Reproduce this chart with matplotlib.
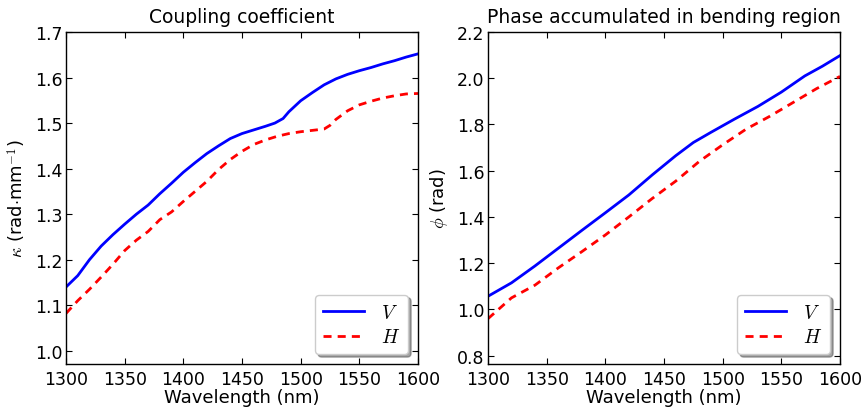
import matplotlib
matplotlib.use("Agg")
import matplotlib.pyplot as plt
import numpy as np

plt.rcParams['mathtext.fontset'] = 'cm'
plt.rcParams['font.family'] = ['DejaVu Sans']

# Left panel: coupling coefficient
wl_k_v = [1300, 1310, 1320, 1330, 1340, 1350, 1360, 1370, 1380, 1390, 1400, 1410, 1420, 1430,
          1440, 1450, 1460, 1470, 1478, 1485, 1490, 1500, 1510, 1520, 1530, 1540, 1550, 1560,
          1570, 1580, 1590, 1600]
kappa_v = [1.140, 1.165, 1.200, 1.230, 1.255, 1.278, 1.300, 1.320, 1.345, 1.368, 1.392, 1.413,
           1.433, 1.450, 1.466, 1.477, 1.485, 1.493, 1.500, 1.510, 1.525, 1.549, 1.567, 1.584,
           1.597, 1.607, 1.615, 1.622, 1.630, 1.637, 1.645, 1.652]
wl_k_h = [1300, 1310, 1320, 1330, 1340, 1350, 1360, 1370, 1380, 1390, 1400, 1410, 1420, 1430,
          1440, 1450, 1460, 1470, 1480, 1490, 1500, 1510, 1520, 1525, 1530, 1540, 1550, 1560,
          1570, 1580, 1590, 1600]
kappa_h = [1.082, 1.110, 1.135, 1.162, 1.190, 1.220, 1.243, 1.262, 1.288, 1.305, 1.328, 1.350,
           1.372, 1.398, 1.420, 1.438, 1.453, 1.463, 1.471, 1.477, 1.481, 1.484, 1.487, 1.495,
           1.508, 1.527, 1.540, 1.548, 1.555, 1.560, 1.564, 1.565]

# Right panel: phase accumulated
wl_p_v = [1300, 1320, 1340, 1360, 1380, 1400, 1420, 1440, 1460, 1475, 1490, 1510, 1530, 1550,
          1570, 1585, 1600]
phi_v = [1.057, 1.115, 1.188, 1.265, 1.342, 1.418, 1.495, 1.582, 1.665, 1.722, 1.766, 1.823,
         1.878, 1.940, 2.010, 2.052, 2.098]
wl_p_h = [1300, 1320, 1340, 1360, 1380, 1400, 1420, 1440, 1460, 1480, 1500, 1520, 1540, 1560,
          1580, 1600]
phi_h = [0.960, 1.050, 1.105, 1.180, 1.250, 1.322, 1.400, 1.480, 1.555, 1.640, 1.712, 1.780,
         1.835, 1.895, 1.955, 2.008]

xticks = [1300, 1350, 1400, 1450, 1500, 1550, 1600]

fig = plt.figure(figsize=(8.64, 4.10), dpi=100)
ax1 = fig.add_axes([66/864, 1-365/410, 352/864, 332/410])
ax2 = fig.add_axes([488/864, 1-365/410, 352/864, 332/410])

for ax in (ax1, ax2):
    ax.tick_params(direction='in', top=True, right=True, labelsize=12.5, length=4)
    ax.tick_params(axis='x', pad=4)
    ax.tick_params(axis='y', pad=2.5)
    for s in ax.spines.values():
        s.set_linewidth(1.0)

leg_kw = dict(loc='lower right', shadow=True, fancybox=True, fontsize=14, handlelength=2.1,
              borderaxespad=0.5, labelspacing=0.3, handletextpad=0.9, borderpad=0.4)
dash = (2.9, 2.2)

ax1.plot(wl_k_v, kappa_v, '-', color='blue', lw=2, label='$V$')
ax1.plot(wl_k_h, kappa_h, '--', color='red', lw=2, dashes=dash, label='$H$')
ax1.set_xlim(1300, 1600)
ax1.set_ylim(0.971, 1.7)
ax1.set_xticks(xticks)
ax1.set_yticks([1.0, 1.1, 1.2, 1.3, 1.4, 1.5, 1.6, 1.7])
ax1.set_title('Coupling coefficient', fontsize=13.5, pad=7)
ax1.set_xlabel('Wavelength (nm)', fontsize=13, labelpad=0)
ax1.set_ylabel(r'$\kappa$ (rad$\cdot$mm$^{-1}$)', fontsize=13, labelpad=5)
ax1.legend(**leg_kw)

ax2.plot(wl_p_v, phi_v, '-', color='blue', lw=2, label='$V$')
ax2.plot(wl_p_h, phi_h, '--', color='red', lw=2, dashes=dash, label='$H$')
ax2.set_xlim(1300, 1600)
ax2.set_ylim(0.764, 2.2)
ax2.set_xticks(xticks)
ax2.set_yticks([0.8, 1.0, 1.2, 1.4, 1.6, 1.8, 2.0, 2.2])
ax2.set_title('Phase accumulated in bending region', fontsize=13.5, pad=7)
ax2.set_xlabel('Wavelength (nm)', fontsize=13, labelpad=0)
ax2.set_ylabel(r'$\phi$ (rad)', fontsize=13, labelpad=5)
ax2.legend(**leg_kw)

fig.savefig('out.png', dpi=100)
